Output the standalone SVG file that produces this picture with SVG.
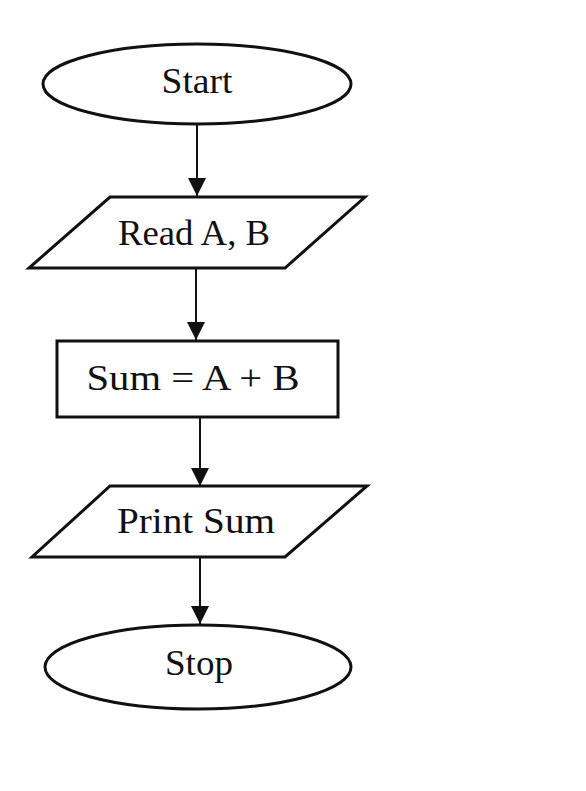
<svg xmlns="http://www.w3.org/2000/svg" width="586" height="791" viewBox="0 0 586 791">
<style>
.shape{fill:#fff;stroke:#111;stroke-width:3}
.lbl{font-family:"Liberation Serif","Times New Roman",serif;font-size:36px;fill:#111;text-anchor:middle}
.conn{stroke:#111;stroke-width:2;fill:none}
</style>
<defs>
<marker id="ah" markerWidth="22" markerHeight="18" refX="18" refY="9" orient="auto" markerUnits="userSpaceOnUse">
<path d="M0,0 L18,9 L0,18 Z" fill="#111"/>
</marker>
</defs>
<rect width="586" height="791" fill="#fff"/>
<g id="connectors">
<line class="conn" x1="197" y1="125" x2="197" y2="196" marker-end="url(#ah)"/>
<line class="conn" x1="196" y1="268" x2="196" y2="340" marker-end="url(#ah)"/>
<line class="conn" x1="200" y1="417" x2="200" y2="486" marker-end="url(#ah)"/>
<line class="conn" x1="200" y1="557" x2="200" y2="624" marker-end="url(#ah)"/>
</g>
<g id="start">
<ellipse class="shape" cx="197" cy="84" rx="154" ry="40"/>
<text class="lbl" x="197" y="93" textLength="71" lengthAdjust="spacingAndGlyphs">Start</text>
</g>
<g id="read">
<polygon class="shape" points="110,197 365,197 285,268 29,268"/>
<text class="lbl" x="194" y="245" textLength="152" lengthAdjust="spacingAndGlyphs">Read A, B</text>
</g>
<g id="sum">
<rect class="shape" x="57" y="341" width="281" height="76"/>
<text class="lbl" x="193" y="390" textLength="213" lengthAdjust="spacingAndGlyphs">Sum = A + B</text>
</g>
<g id="print">
<polygon class="shape" points="110,486 367,486 285,557 32,557"/>
<text class="lbl" x="196" y="533" textLength="158" lengthAdjust="spacingAndGlyphs">Print Sum</text>
</g>
<g id="stop">
<ellipse class="shape" cx="198" cy="667" rx="153" ry="42"/>
<text class="lbl" x="199" y="675" textLength="68" lengthAdjust="spacingAndGlyphs">Stop</text>
</g>
</svg>
